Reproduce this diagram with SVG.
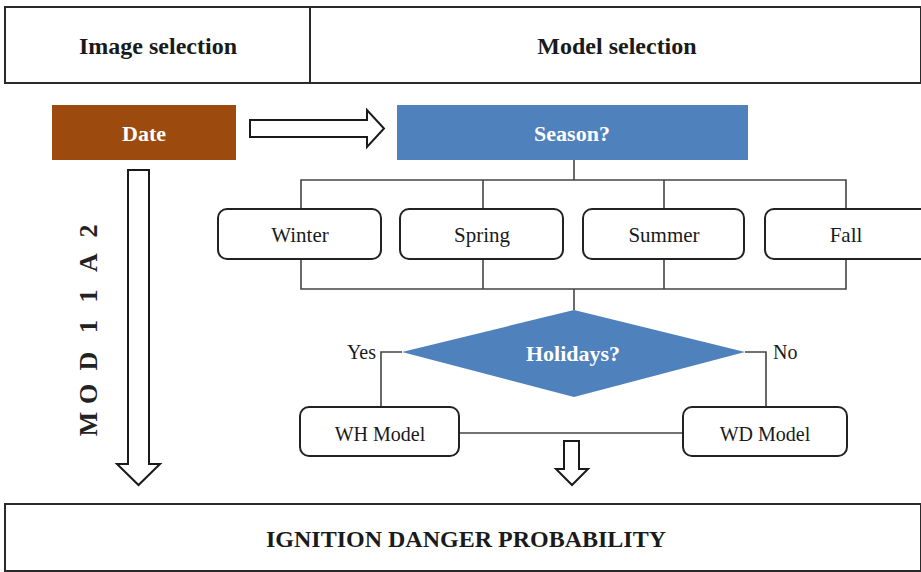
<svg xmlns="http://www.w3.org/2000/svg" width="921" height="572" viewBox="0 0 921 572">
<style>
  .frame { fill: #ffffff; stroke: #2a2a2a; stroke-width: 2; }
  .rbox { fill: #ffffff; stroke: #222222; stroke-width: 2; }
  .conn { fill: none; stroke: #444444; stroke-width: 1.6; }
  .harrow { fill: #ffffff; stroke: #1a1a1a; stroke-width: 2; stroke-linejoin: miter; }
  .hdr { font-family: "Liberation Serif", "Times New Roman", serif; font-weight: bold; font-size: 24px; fill: #1a1a1a; text-anchor: middle; }
  .wt { font-family: "Liberation Serif", "Times New Roman", serif; font-weight: bold; font-size: 22px; fill: #ffffff; text-anchor: middle; }
  .lbl { font-family: "Liberation Serif", "Times New Roman", serif; font-size: 21px; fill: #1a1a1a; text-anchor: middle; }
  .sm { font-family: "Liberation Serif", "Times New Roman", serif; font-size: 20px; fill: #1a1a1a; }
  .vt { font-family: "Liberation Serif", "Times New Roman", serif; font-weight: bold; font-size: 26px; fill: #222222; }
</style>

<g id="header">
  <rect class="frame" x="5" y="7" width="916" height="76"/>
  <line x1="310" y1="7" x2="310" y2="83" stroke="#2a2a2a" stroke-width="2"/>
  <text class="hdr" x="158" y="54">Image selection</text>
  <text class="hdr" x="617" y="54">Model selection</text>
</g>

<g id="connectors">
  <polyline class="conn" points="574,160 574,180"/>
  <polyline class="conn" points="301,209 301,180 846,180 846,209"/>
  <line class="conn" x1="483" y1="180" x2="483" y2="209"/>
  <line class="conn" x1="664" y1="180" x2="664" y2="209"/>
  <polyline class="conn" points="301,259 301,289 846,289 846,259"/>
  <line class="conn" x1="483" y1="259" x2="483" y2="289"/>
  <line class="conn" x1="664" y1="259" x2="664" y2="289"/>
  <line class="conn" x1="574" y1="289" x2="574" y2="310"/>
  <polyline class="conn" points="402,352 381,352 381,407"/>
  <polyline class="conn" points="745,352 766,352 766,407"/>
  <line class="conn" x1="459" y1="433" x2="683" y2="433"/>
  <polygon class="harrow" points="250,120 367,120 367,110 384,128.5 367,147 367,137 250,137"/>
  <polygon class="harrow" points="128,170 149,170 149,464 160,464 138.5,485 117,464 128,464"/>
  <polygon class="harrow" points="564,441 579,441 579,469 588,469 572,485 556,469 564,469"/>
</g>

<g id="date">
  <rect x="52" y="105" width="184" height="55" fill="#9C4A0E"/>
  <text class="wt" x="144" y="141">Date</text>
</g>

<g id="season">
  <rect x="397" y="105" width="351" height="55" fill="#4F81BD"/>
  <text class="wt" x="572" y="141">Season?</text>
</g>

<g id="winter">
  <rect class="rbox" x="218" y="209" width="163" height="50" rx="9"/>
  <text class="lbl" x="300" y="242">Winter</text>
</g>
<g id="spring">
  <rect class="rbox" x="400" y="209" width="163" height="50" rx="9"/>
  <text class="lbl" x="482" y="242">Spring</text>
</g>
<g id="summer">
  <rect class="rbox" x="583" y="209" width="161" height="50" rx="9"/>
  <text class="lbl" x="664" y="242">Summer</text>
</g>
<g id="fall">
  <rect class="rbox" x="765" y="209" width="165" height="50" rx="9"/>
  <text class="lbl" x="846" y="242">Fall</text>
</g>

<g id="holidays">
  <polygon points="574,310 745,352 574,397 402,352" fill="#4F81BD"/>
  <text class="wt" x="573" y="361">Holidays?</text>
  <text class="sm" x="376" y="359" text-anchor="end">Yes</text>
  <text class="sm" x="773" y="359">No</text>
</g>

<g id="wh-model">
  <rect class="rbox" x="300" y="407" width="159" height="49" rx="9"/>
  <text class="sm" x="380" y="441" text-anchor="middle">WH Model</text>
</g>
<g id="wd-model">
  <rect class="rbox" x="683" y="407" width="164" height="49" rx="9"/>
  <text class="sm" x="765" y="441" text-anchor="middle">WD Model</text>
</g>

<g id="mod11a2">
  <text class="vt" transform="rotate(-90)" x="-436.3 -404.1 -370.4 -333 -302.5 -271.9 -237.5" y="97">MOD11A2</text>
</g>

<g id="result">
  <rect class="frame" x="5" y="504" width="916" height="67"/>
  <text class="hdr" x="466" y="547">IGNITION DANGER PROBABILITY</text>
</g>
</svg>
